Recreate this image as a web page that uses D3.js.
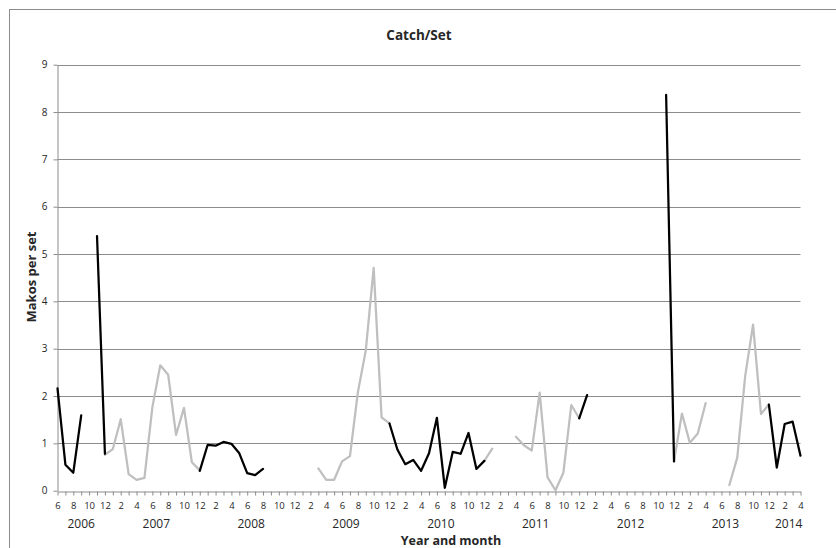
<!DOCTYPE html>
<html>
<head>
<meta charset="utf-8">
<script src="https://cdnjs.cloudflare.com/ajax/libs/d3/7.8.5/d3.min.js"></script>
<style>
body { margin: 0; background: #fff; }
.chart text { font-family: 'Open Sans', sans-serif; fill: #262626; }
.axis path, .axis line { stroke: #8c8c8c; }
.grid line { stroke: #8c8c8c; }
</style>
</head>
<body>
<div class="chart"></div>
<script>
// year groups on the category axis
var years = [2006, 2007, 2008, 2009, 2010, 2011, 2012, 2013, 2014];

// monthly categories, Jun 2006 -> Apr 2014
var months = d3.timeMonth.range(new Date(2006, 5, 1), new Date(2014, 4, 1));

// makos per set, black series (one row per year)
var blackSeries = [
    [2.16, 0.55, 0.38, 1.59, null, 5.38, 0.78],                                   // 2006 Jun-Dec
    [null, null, null, null, null, null, null, null, null, null, null, 0.42],     // 2007
    [0.97, 0.95, 1.03, 0.99, 0.79, 0.37, 0.33, 0.46, null, null, null, null],     // 2008
    [null, null, null, null, null, null, null, null, null, null, null, 1.42],     // 2009
    [0.87, 0.56, 0.65, 0.42, 0.79, 1.54, 0.06, 0.82, 0.78, 1.22, 0.46, 0.63],     // 2010
    [null, null, null, null, null, null, null, null, null, null, null, 1.53],     // 2011
    [2.02, null, null, null, null, null, null, null, null, null, 8.36, 0.62],     // 2012
    [null, null, null, null, null, null, null, null, null, null, null, 1.82],     // 2013
    [0.49, 1.41, 1.46, 0.74]                                                      // 2014 Jan-Apr
].flat();

// makos per set, grey series
var greySeries = [
    [null, null, null, null, null, null, 0.76],                                   // 2006 Jun-Dec
    [0.88, 1.51, 0.35, 0.23, 0.27, 1.76, 2.65, 2.45, 1.18, 1.75, 0.60, 0.43],     // 2007
    [null, null, null, null, null, null, null, null, null, null, null, null],     // 2008
    [null, null, 0.47, 0.23, 0.23, 0.62, 0.73, 2.08, 2.96, 4.71, 1.55, 1.42],     // 2009
    [null, null, null, null, null, null, null, null, null, null, null, 0.63],     // 2010
    [0.89, null, null, 1.14, 0.96, 0.85, 2.07, 0.28, 0.01, 0.38, 1.81, 1.53],     // 2011
    [null, null, null, null, null, null, null, null, null, null, null, 0.62],     // 2012
    [1.63, 1.01, 1.21, 1.85, null, null, 0.12, 0.70, 2.42, 3.51, 1.62, 1.82],     // 2013
    [null, null, null, null]                                                      // 2014 Jan-Apr
].flat();

var yTicks = [0, 1, 2, 3, 4, 5, 6, 7, 8, 9];

var fmtKey = d3.timeFormat('%Y-%m');
var categories = months.map((m) => { return fmtKey(m); });

/*-------------------------------------------------------*/
function main(){
    var W = 836, H = 548;
    var plot = { left: 57.5, right: 800.5, top: 64.7, bottom: 490.7 };

    var svg = d3.select('.chart').append('svg')
        .attr('width', W)
        .attr('height', H);

    // chart area border (cut off at right & bottom)
    svg.append('rect')
        .attr('x', 9.5).attr('y', 9.5)
        .attr('width', 1000).attr('height', 1000)
        .attr('fill', 'none')
        .attr('stroke', '#8c8c8c');

    // set the ranges
    var x = d3.scalePoint()
        .domain(categories)
        .range([plot.left, plot.right]);
    var y = d3.scaleLinear()
        .domain([0, 9])
        .range([plot.bottom, plot.top]);

    // gridlines
    svg.append('g')
        .attr('class', 'grid')
        .selectAll('line')
        .data(yTicks.slice(1))
        .enter().append('line')
        .attr('x1', plot.left).attr('x2', plot.right)
        .attr('y1', (d) => { return Math.round(y(d)) + 0.5; })
        .attr('y2', (d) => { return Math.round(y(d)) + 0.5; });

    // y axis
    var yAxis = svg.append('g')
        .attr('class', 'axis')
        .attr('transform', `translate(${plot.left}, 0)`)
        .call(d3.axisLeft(y).tickValues(yTicks).tickSize(4).tickPadding(6).tickSizeOuter(0));
    yAxis.selectAll('text').style('font-size', '10px');

    // x axis, a tick per month, label every other month
    var xAxis = svg.append('g')
        .attr('class', 'axis')
        .attr('transform', `translate(0, ${Math.round(plot.bottom) + 0.5})`)
        .call(d3.axisBottom(x)
            .tickSize(4)
            .tickPadding(7)
            .tickSizeOuter(0)
            .tickFormat((d) => {
                var m = +d.slice(5);
                return m % 2 === 0 ? m : '';
            }));
    xAxis.selectAll('text').style('font-size', '9.5px');

    // year labels centred under their months
    svg.append('g')
        .selectAll('text')
        .data(years)
        .enter().append('text')
        .attr('x', (yr) => {
            var ks = categories.filter((k) => { return +k.slice(0, 4) === yr; });
            return (x(ks[0]) + x(ks[ks.length - 1])) / 2;
        })
        .attr('y', 527.5)
        .attr('text-anchor', 'middle')
        .style('font-size', '12px')
        .text((yr) => { return yr; });

    // the two series
    var line = d3.line()
        .defined((d) => { return d.v !== null; })
        .x((d) => { return x(d.k); })
        .y((d) => { return y(d.v); })
        .curve(d3.curveLinear);

    var series = [
        { values: greySeries, color: '#bfbfbf' },
        { values: blackSeries, color: '#000000' }
    ];

    svg.selectAll('.series')
        .data(series)
        .enter().append('path')
        .attr('class', 'series')
        .attr('fill', 'none')
        .attr('stroke', (s) => { return s.color; })
        .attr('stroke-width', 2.25)
        .attr('stroke-linejoin', 'round')
        .attr('stroke-linecap', 'round')
        .attr('d', (s) => {
            return line(s.values.map((v, i) => { return { k: categories[i], v: v }; }));
        });

    // titles
    svg.append('text')
        .attr('x', 419).attr('y', 40)
        .attr('text-anchor', 'middle')
        .style('font-size', '13.5px')
        .style('font-weight', 'bold')
        .text('Catch/Set');

    svg.append('text')
        .attr('transform', 'translate(36, 277) rotate(-90)')
        .attr('text-anchor', 'middle')
        .style('font-size', '13px')
        .style('font-weight', 'bold')
        .text('Makos per set');

    svg.append('text')
        .attr('x', 451).attr('y', 545)
        .attr('text-anchor', 'middle')
        .style('font-size', '12.5px')
        .style('font-weight', 'bold')
        .text('Year and month');
}

main();
</script>
</body>
</html>
